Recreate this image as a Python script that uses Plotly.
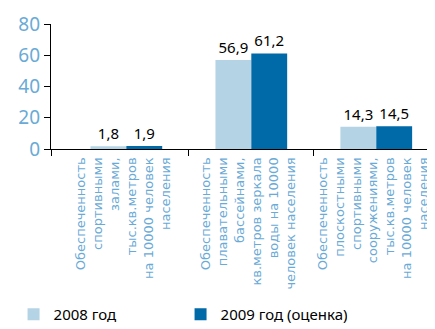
import plotly.graph_objects as go

categories = [
    "Обеспеченность<br>спортивными<br>залами,<br>тыс.кв.метров<br>на 10000 человек<br>населения",
    "Обеспеченность<br>плавательными<br>бассейнами,<br>кв.метров зеркала<br>воды на 10000<br>человек населения",
    "Обеспеченность<br>плоскостными<br>спортивными<br>сооружениями,<br>тыс.кв.метров<br>на 10000 человек<br>населения",
]
series_2008 = [1.8, 56.9, 14.3]
series_2009 = [1.9, 61.2, 14.5]
name_2008 = "2008 год"
name_2009 = "2009 год (оценка)"
y_ticks = [0, 20, 40, 60, 80]

pos = list(range(len(categories)))
FONT = "Noto Sans"
LABEL_BLUE = "#6aaad6"

fig = go.Figure()
fig.add_trace(go.Bar(x=pos, y=series_2008, name=name_2008, marker_color="#b4d3e5",
                     marker_line_width=0, texttemplate="%{y:.1f}", textposition="outside",
                     textfont=dict(color="black", size=15, family=FONT), cliponaxis=False))
fig.add_trace(go.Bar(x=pos, y=series_2009, name=name_2009, marker_color="#0069a8",
                     marker_line_width=0, texttemplate="%{y:.1f}", textposition="outside",
                     textfont=dict(color="black", size=15, family=FONT), cliponaxis=False))

fig.update_layout(
    width=435, height=329,
    margin=dict(l=38, r=6, t=16, b=183.5),
    plot_bgcolor="white", paper_bgcolor="white",
    separators=", ",
    barmode="group", bargap=0.426, bargroupgap=0,
    font=dict(family=FONT),
    xaxis=dict(
        range=[-0.603, 2.486], tickmode="array", tickvals=pos, ticktext=categories,
        tickangle=-90, ticks="", showline=True, linecolor="black", linewidth=1.3,
        tickfont=dict(color=LABEL_BLUE, size=13, family="DejaVu Sans"), showgrid=False,
        zeroline=False, ticklabelshift=-3, ticklabelstandoff=2, automargin=False,
        minor=dict(tickmode="array", tickvals=[-0.603, 0.5, 1.5, 2.486], ticks="outside",
                   ticklen=6, tickcolor="black", tickwidth=1.3),
    ),
    yaxis=dict(
        range=[0, 80], tickvals=y_ticks, ticks="outside", ticklen=6, tickcolor="black",
        tickwidth=1.3, showline=True, linecolor="black", linewidth=1.3, showgrid=False,
        zeroline=False, tickfont=dict(color=LABEL_BLUE, size=19, family=FONT),
        automargin=False, ticklabeloverflow="allow",
    ),
    legend=dict(orientation="h", x=-0.097, xanchor="left", y=-1.324, yanchor="middle",
                font=dict(size=15, color="black", family=FONT),
                entrywidth=122, itemwidth=30, bgcolor="rgba(0,0,0,0)"),
)

fig.write_html("out.html")
